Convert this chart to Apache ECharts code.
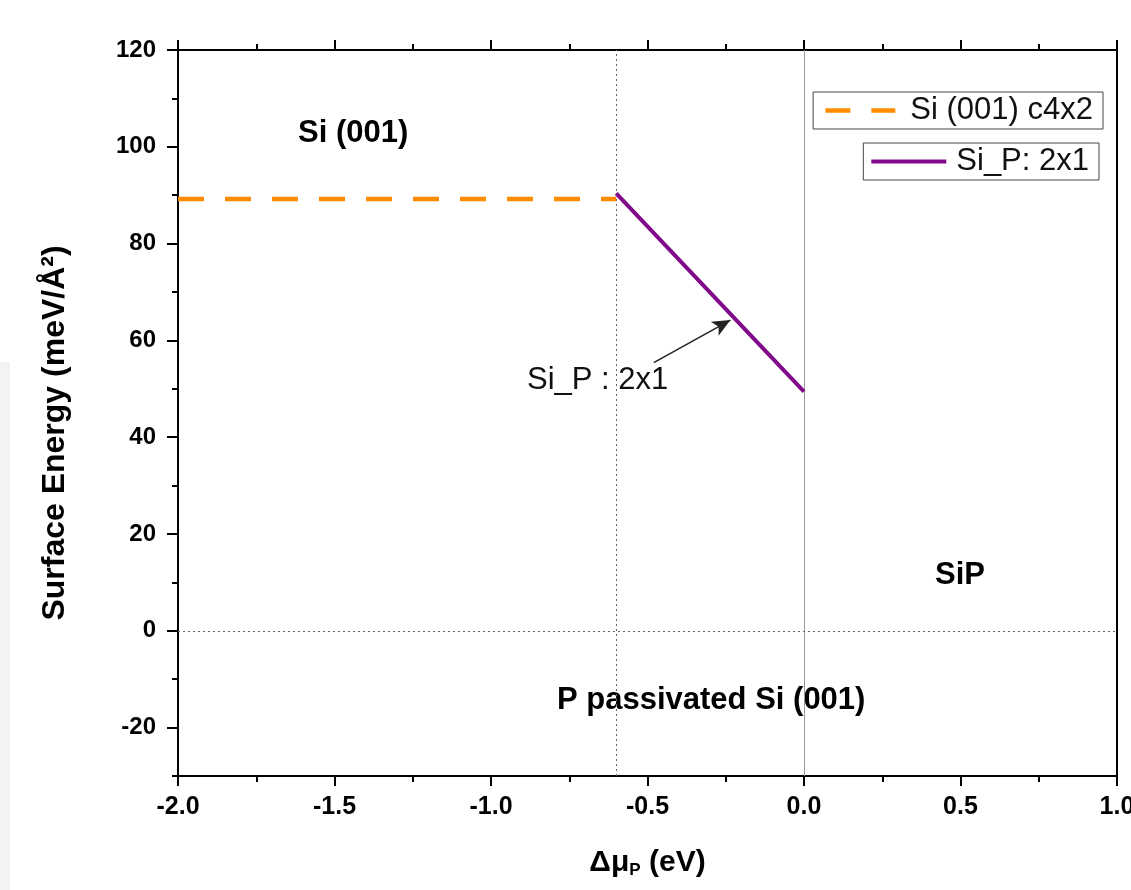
<!DOCTYPE html>
<html>
<head>
<meta charset="utf-8">
<script src="https://cdn.jsdelivr.net/npm/echarts@6/dist/echarts.min.js"></script>
<style>html,body{margin:0;padding:0;background:#fff}#c{width:1131px;height:890px}</style>
</head>
<body>
<div id="c"></div>
<script>
// ---- data ----
const xRange = [-2.0, 1.0];
const yRange = [-30, 120];
const yMajorTicks = [-20, 0, 20, 40, 60, 80, 100, 120];
const yMinorTicks = [-30, -10, 10, 30, 50, 70, 90, 110];
const siC4x2X = [-2.0, -0.6];
const siC4x2Y = [89.2, 89.2];
const siP2x1X = [-0.6, 0.0];
const siP2x1Y = [90.4, 49.4];
const dottedVX = [-0.6];
const solidVX = [0.0];
const dottedHY = [0];
const arrowFrom = [-0.48, 55.4];
const arrowTo = [-0.235, 64.2];
const seriesNames = ['Si (001) c4x2', 'Si_P: 2x1'];

const FONT = "'Liberation Sans', Arial, sans-serif";
const chart = echarts.init(document.getElementById('c'), null, {renderer: 'canvas'});

function pairs(xs, ys) { return xs.map((x, i) => [x, ys[i]]); }

const ORANGE = '#ff8c00';
const PURPLE = '#800a8a';
const tickStyle = {color: '#000', width: 2};
const option = {
  animation: false,
  backgroundColor: '#fff',
  grid: {left: 178, right: 14, top: 50, bottom: 114, show: true, borderColor: '#000', borderWidth: 2,
    backgroundColor: 'transparent', outerBoundsMode: 'none', containLabel: false},
  legend: [
    {
      data: [seriesNames[0]], right: 28, top: 92, orient: 'horizontal',
      borderColor: '#444', borderWidth: 1, padding: [3, 10, 3, 10],
      itemWidth: 70, itemHeight: 20, itemGap: 8,
      itemStyle: {opacity: 0},
      lineStyle: {color: ORANGE, width: 4.5, type: [25, 21], opacity: 1},
      textStyle: {fontFamily: FONT, fontSize: 31, color: '#111', padding: [0, 0, 0, 10]}
    },
    {
      data: [seriesNames[1]], right: 32, top: 143, orient: 'horizontal',
      borderColor: '#444', borderWidth: 1, padding: [3, 10, 3, 6],
      itemWidth: 75, itemHeight: 20, itemGap: 8,
      itemStyle: {opacity: 0},
      lineStyle: {color: PURPLE, width: 4, type: 'solid', opacity: 1},
      textStyle: {fontFamily: FONT, fontSize: 31, color: '#111', padding: [0, 0, 0, 5]}
    }
  ],
  xAxis: [
    {
      type: 'value', min: xRange[0], max: xRange[1], interval: 0.5, position: 'bottom',
      axisLine: {show: true, onZero: false, lineStyle: {color: '#000', width: 2}},
      axisTick: {show: true, inside: false, length: 10, lineStyle: tickStyle},
      minorTick: {show: true, splitNumber: 2, length: 6, lineStyle: tickStyle},
      splitLine: {show: false},
      axisLabel: {fontFamily: "'Liberation Sans Narrow', " + FONT, fontWeight: 'bold', fontSize: 25, color: '#000', margin: 19,
        formatter: v => v.toFixed(1)},
      name: '{a|Δμ}{s|P}{a| (eV)}', nameLocation: 'middle', nameGap: 70,
      nameTextStyle: {rich: {
        a: {fontFamily: FONT, fontWeight: 'bold', fontSize: 30, color: '#000'},
        s: {fontFamily: FONT, fontWeight: 'bold', fontSize: 17, color: '#000', padding: [16, 0, 0, 0]}
      }}
    },
    {
      type: 'value', min: xRange[0], max: xRange[1], interval: 0.5, position: 'top',
      axisLine: {show: true, onZero: false, lineStyle: {color: '#000', width: 2}},
      axisTick: {show: true, inside: false, length: 10, lineStyle: tickStyle},
      minorTick: {show: true, splitNumber: 2, length: 6, lineStyle: tickStyle},
      splitLine: {show: false}, axisLabel: {show: false}
    }
  ],
  yAxis: [
    {
      type: 'value', min: yRange[0], max: yRange[1], position: 'left',
      axisLine: {show: true, onZero: false, lineStyle: {color: '#000', width: 2}},
      axisTick: {show: true, inside: false, length: 11, lineStyle: tickStyle, customValues: yMajorTicks},
      splitLine: {show: false},
      axisLabel: {fontFamily: FONT, fontWeight: 'bold', fontSize: 24, color: '#000', margin: 22, customValues: yMajorTicks}
    },
    {
      type: 'value', min: yRange[0], max: yRange[1], position: 'left',
      axisLine: {show: false, onZero: false},
      axisTick: {show: true, inside: false, length: 6, lineStyle: tickStyle, customValues: yMinorTicks},
      splitLine: {show: false},
      axisLabel: {show: false}
    }
  ],
  graphic: [
    {type: 'rect', left: 0, top: 362, shape: {width: 10, height: 528}, style: {fill: '#f3f3f3'}, z: -10},
    {type: 'text', x: 55, y: 433, rotation: Math.PI / 2,
      style: {text: 'Surface Energy (meV/Å²)', font: 'bold 32px ' + FONT, fill: '#000', align: 'center', verticalAlign: 'middle'}},
    {type: 'text', left: 298, top: 118, style: {text: 'Si (001)', font: 'bold 31px ' + FONT, fill: '#000'}},
    {type: 'text', left: 935, top: 560, style: {text: 'SiP', font: 'bold 31px ' + FONT, fill: '#000'}},
    {type: 'text', left: 557, top: 685, style: {text: 'P passivated Si (001)', font: 'bold 31px ' + FONT, fill: '#000'}},
    {type: 'text', left: 527, top: 365, style: {text: 'Si_P : 2x1', font: '31px ' + FONT, fill: '#111'}}
  ],
  series: [
    {
      name: seriesNames[0], type: 'line', data: pairs(siC4x2X, siC4x2Y), symbol: 'none', showSymbol: false,
      xAxisIndex: 0, yAxisIndex: 0, z: 5,
      lineStyle: {color: ORANGE, width: 4.5, type: [26, 21]}, itemStyle: {color: ORANGE}
    },
    {
      name: seriesNames[1], type: 'line', data: pairs(siP2x1X, siP2x1Y), symbol: 'none', showSymbol: false,
      xAxisIndex: 0, yAxisIndex: 0, z: 5,
      lineStyle: {color: PURPLE, width: 4}, itemStyle: {color: PURPLE}
    },
    {
      name: 'refs', type: 'line', data: [], xAxisIndex: 0, yAxisIndex: 0, z: 2,
      markLine: {
        silent: true, symbol: ['none', 'none'], label: {show: false}, animation: false,
        data: [
          ...dottedVX.map(v => ({xAxis: v, lineStyle: {color: '#666', width: 1, type: [2, 3]}})),
          ...solidVX.map(v => ({xAxis: v, lineStyle: {color: '#999', width: 1, type: 'solid'}})),
          ...dottedHY.map(v => ({yAxis: v, lineStyle: {color: '#666', width: 1, type: [2, 3]}}))
        ]
      }
    },
    {
      name: 'arrow', type: 'line', data: [], xAxisIndex: 0, yAxisIndex: 0, z: 6,
      markLine: {
        silent: true, symbol: ['none', 'arrow'], symbolSize: [12, 18], label: {show: false}, animation: false,
        data: [[{coord: arrowFrom, lineStyle: {color: '#222', width: 1.5, type: 'solid'}}, {coord: arrowTo}]]
      }
    }
  ]
};
chart.setOption(option);
</script>
</body>
</html>
